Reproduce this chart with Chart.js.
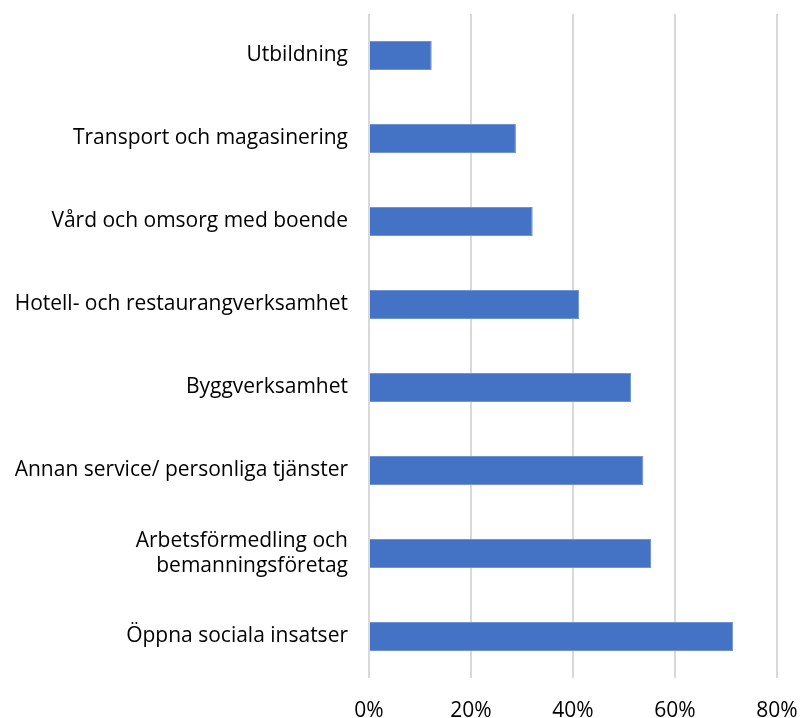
<!DOCTYPE html>
<html>
<head>
<meta charset="utf-8">
<script src="https://cdn.jsdelivr.net/npm/chart.js"></script>
<style>
  body { margin: 0; background: #fff; }
  #wrap { width: 801px; height: 718px; position: relative; }
</style>
</head>
<body>
<div id="wrap"><canvas id="branschChart"></canvas></div>
<script>
const categories = [
    'Utbildning',
    'Transport och magasinering',
    'Vård och omsorg med boende',
    'Hotell- och restaurangverksamhet',
    'Byggverksamhet',
    'Annan service/ personliga tjänster',
    ['Arbetsförmedling och', 'bemanningsföretag'],
    'Öppna sociala insatser'
];
const shares = [12.3, 28.8, 32.1, 41.2, 51.4, 53.8, 55.3, 71.4];
const xTicks = [0, 20, 40, 60, 80];

const labelFont = { family: '"Open Sans", Lato, sans-serif', size: 21 };

// drop the extra padding Chart.js adds for tick label overhang
function noOverhang(axis) {
    axis.paddingTop = 0;
    axis.paddingBottom = 0;
    axis.paddingLeft = 0;
    axis.paddingRight = 0;
}

new Chart(document.getElementById('branschChart'), {
    type: 'bar',
    data: {
        labels: categories,
        datasets: [{
            data: shares,
            backgroundColor: '#4472c4',
            borderColor: '#6f93d3',
            borderWidth: 1,
            categoryPercentage: 1,
            barPercentage: 0.35
        }]
    },
    options: {
        indexAxis: 'y',
        responsive: true,
        maintainAspectRatio: false,
        animation: false,
        layout: { padding: { top: 14, right: 24, left: 0, bottom: 0 } },
        plugins: {
            legend: { display: false },
            tooltip: { enabled: false }
        },
        scales: {
            x: {
                min: 0,
                max: 80,
                afterBuildTicks: (axis) => { axis.ticks = xTicks.map(v => ({ value: v })); },
                afterFit: (axis) => { axis.height = 40; noOverhang(axis); },
                grid: { color: '#d9d9d9', lineWidth: 2, drawTicks: false },
                border: { display: false },
                ticks: {
                    padding: 20,
                    color: '#000',
                    font: labelFont,
                    callback: (v) => v + '%'
                }
            },
            y: {
                afterFit: (axis) => { axis.width = 369; noOverhang(axis); },
                grid: { display: false },
                border: { display: false },
                ticks: {
                    padding: 13,
                    color: '#000',
                    font: labelFont
                }
            }
        }
    }
});
</script>
</body>
</html>
